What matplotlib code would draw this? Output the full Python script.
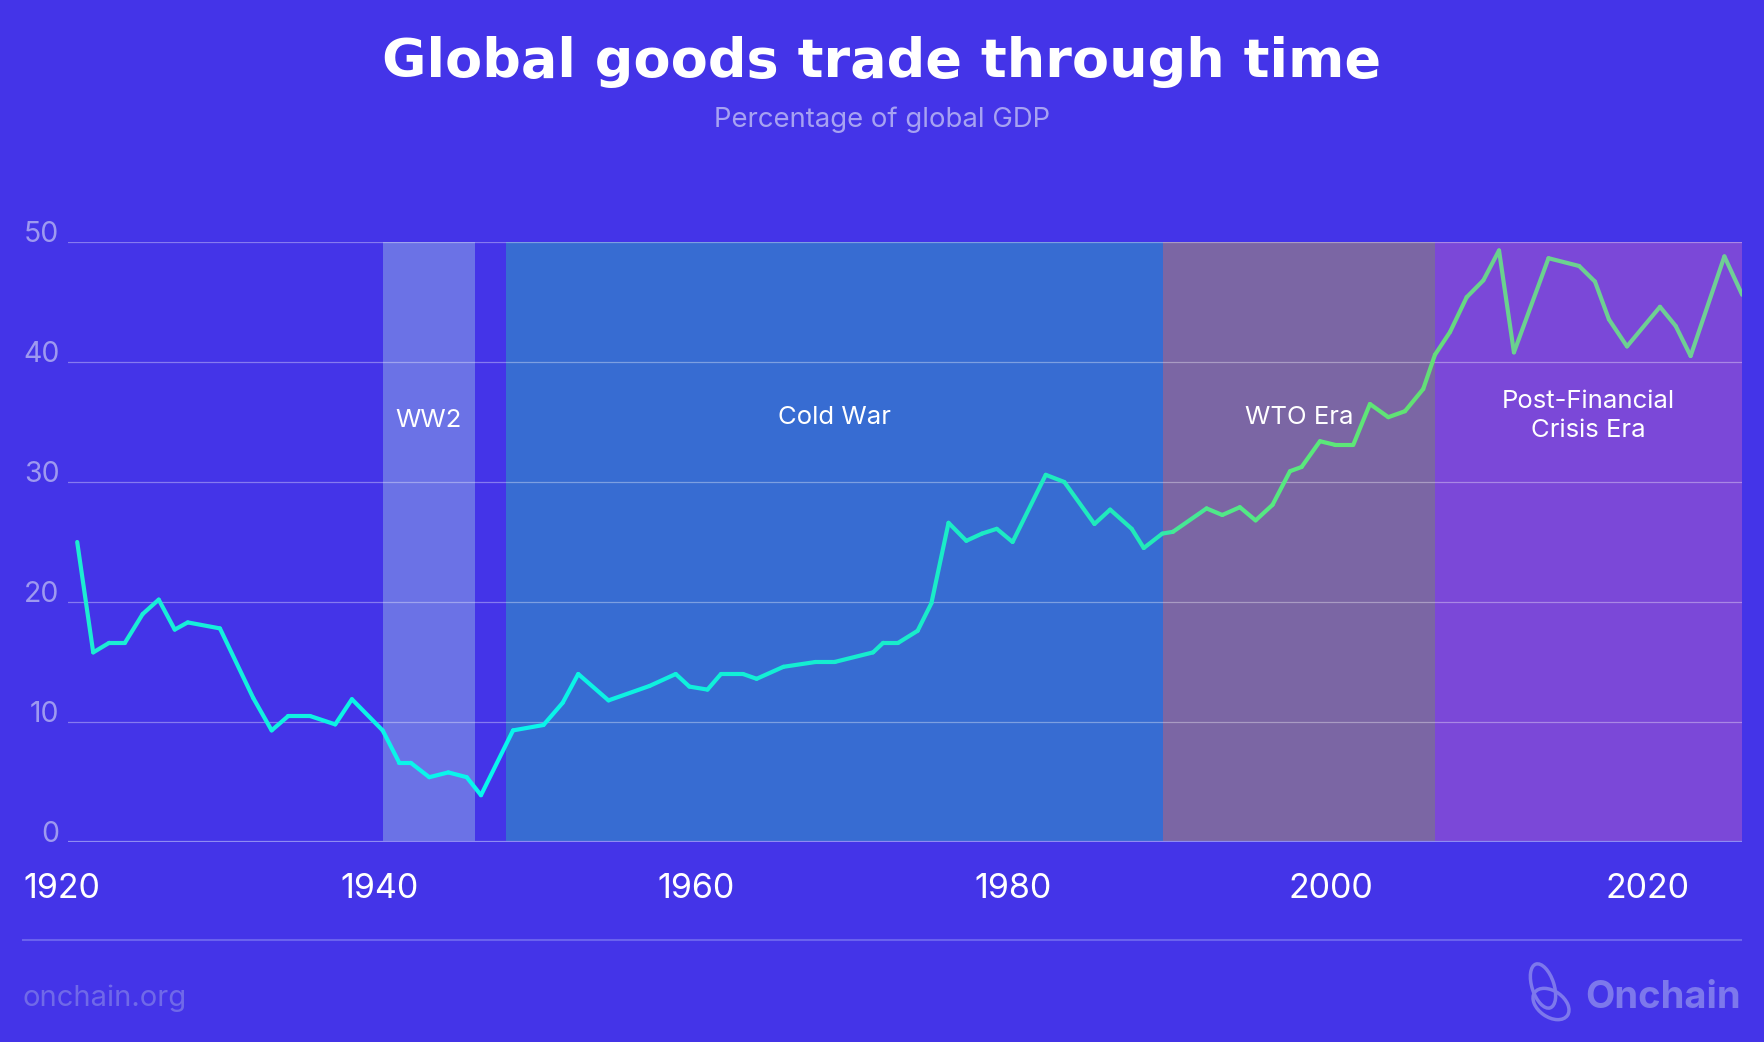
import numpy as np
import matplotlib
matplotlib.use("Agg")
import matplotlib.pyplot as plt
import matplotlib.transforms as mtransforms
from matplotlib.collections import LineCollection
from matplotlib.colors import LinearSegmentedColormap
from matplotlib.patches import Ellipse

# goods trade as % of global GDP (years read off the chart, not evenly spaced)
years = [1920.96, 1921.97, 1922.98, 1923.97, 1925.09, 1926.10, 1927.11, 1927.93,
         1929.96, 1932.06, 1933.22, 1934.27, 1935.64, 1937.23, 1938.28, 1940.22,
         1941.27, 1941.99, 1943.16, 1944.36, 1945.52, 1946.42, 1948.44, 1950.36,
         1951.57, 1952.55, 1954.46, 1957.04, 1958.70, 1959.56, 1960.70, 1961.55,
         1962.94, 1963.80, 1965.49, 1967.51, 1968.71, 1971.14, 1971.78, 1972.73,
         1973.95, 1974.82, 1975.90, 1977.02, 1978.01, 1978.94, 1979.94, 1982.03,
         1983.20, 1985.10, 1986.09, 1987.45, 1988.21, 1989.38, 1990.05, 1992.17,
         1993.16, 1994.27, 1995.26, 1996.33, 1997.43, 1998.16, 1999.32, 2000.26,
         2001.42, 2002.47, 2003.63, 2004.68, 2005.83, 2006.57, 2007.52, 2008.57,
         2009.62, 2010.61, 2011.55, 2013.73, 2015.66, 2016.66, 2017.54, 2018.68,
         2020.76, 2021.75, 2022.69, 2024.82, 2025.94]
trade_pct = [25.0, 15.8, 16.6, 16.6, 19.0, 20.2, 17.7, 18.3,
             17.8, 12.0, 9.3, 10.5, 10.5, 9.8, 11.9, 9.3,
             6.6, 6.6, 5.4, 5.8, 5.4, 3.9, 9.3, 9.75,
             11.6, 14.0, 11.8, 13.0, 14.0, 12.95, 12.7, 14.0,
             14.0, 13.6, 14.6, 15.0, 15.0, 15.8, 16.6, 16.6,
             17.6, 19.9, 26.6, 25.1, 25.7, 26.1, 25.0, 30.6,
             30.0, 26.5, 27.7, 26.1, 24.5, 25.7, 25.85, 27.8,
             27.25, 27.9, 26.8, 28.1, 30.9, 31.25, 33.4, 33.1,
             33.1, 36.5, 35.4, 35.9, 37.75, 40.6, 42.5, 45.4,
             46.8, 49.3, 40.8, 48.65, 48.0, 46.7, 43.55, 41.3,
             44.6, 43.0, 40.5, 48.8, 45.6]

eras = ["WW2", "Cold War", "WTO Era", "Post-Financial\nCrisis Era"]
era_start = [1940.22, 1947.99, 1989.42, 2006.57]
era_end = [1946.04, 1989.42, 2006.57, 2025.93]
era_colors = ["#6B72E6", "#376CD2", "#7B66A4", "#7B48D8"]
era_label_y = [35.1, 35.4, 35.4, 35.5]

x_ticks = [1920, 1940, 1960, 1980, 2000, 2020]
y_ticks = [0, 10, 20, 30, 40, 50]

BG = "#4434E8"
plt.rcParams["font.family"] = ["Inter", "DejaVu Sans"]

fig = plt.figure(figsize=(17.64, 10.42), dpi=100, facecolor=BG)
ax = fig.add_axes([68 / 1764, 1 - 842 / 1042, 1674 / 1764, 600 / 1042])
ax.set_facecolor(BG)
ax.set_xlim(1920.38, 2025.93)
ax.set_ylim(0, 50)
for s in ax.spines.values():
    s.set_visible(False)
ax.set_xticks([])
ax.set_yticks([])

# shaded eras
for name, x0, x1, c, ly in zip(eras, era_start, era_end, era_colors, era_label_y):
    ax.axvspan(x0, x1, color=c, lw=0, zorder=0)
    ax.text((x0 + x1) / 2, ly, name, ha="center", va="center", color="white",
            fontsize=18.5, linespacing=1.35, zorder=4)

# grid + y labels
ytrans = mtransforms.blended_transform_factory(ax.transAxes, ax.transData)
for v in y_ticks:
    if v == 0:
        ax.axhline(0, color="#8F8BF3", lw=1.6, zorder=1)
    else:
        ax.axhline(v, color="white", alpha=0.35, lw=0.9, zorder=1)
    ax.text(-0.0051, v, str(v), transform=ytrans, ha="right", va="baseline",
            fontsize=20.5, color="#9E99F0", clip_on=False)

# x labels
xtrans = mtransforms.blended_transform_factory(ax.transData, ax.transAxes)
for t in x_ticks:
    ax.text(t, -0.0783, str(t), transform=xtrans, ha="center", va="center",
            fontsize=24.5, color="white", clip_on=False)

# gradient line
xy = np.column_stack([years, trade_pct])
segs = np.stack([xy[:-1], xy[1:]], axis=1)
cmap = LinearSegmentedColormap.from_list("trade", [
    (0.00, "#1EEBD0"), (0.14, "#0FF2E2"), (0.25, "#08F6EE"), (0.38, "#10F0DA"),
    (0.52, "#1AECC8"), (0.65, "#22EAB8"), (0.675, "#4EE88C"), (0.76, "#5CE878"),
    (0.81, "#62E074"), (0.85, "#6AD28E"), (1.00, "#70CE96")])
lc = LineCollection(segs, cmap=cmap, norm=plt.Normalize(1920, 2026),
                    linewidth=3, capstyle="round", joinstyle="round", zorder=3)
lc.set_array((np.array(years[:-1]) + np.array(years[1:])) / 2)
ax.add_collection(lc)

# titles
fig.text(0.5, 1 - 76.7 / 1042, "Global goods trade through time", ha="center",
         va="baseline", fontsize=39, fontweight="bold", color="white",
         family="DejaVu Sans")
fig.text(0.5, 1 - 126.7 / 1042, "Percentage of global GDP", ha="center",
         va="baseline", fontsize=19.8, color="#A7A2F2")

# footer in pixel coords
deco = fig.add_axes([0, 0, 1, 1])
deco.set_xlim(0, 1764)
deco.set_ylim(1042, 0)
deco.axis("off")
deco.patch.set_alpha(0)
deco.plot([22.5, 1741], [940.3, 940.3], color="#6A62EE", lw=1.5)
deco.text(22.5, 998, "onchain.org", ha="left", va="center", fontsize=21,
          color="#7069E8")
deco.text(1741, 998, "Onchain", ha="right", va="center", fontsize=27.5,
          fontweight="bold", color="#7D78EC")
deco.add_patch(Ellipse((1543, 986), 22, 46, angle=-18, fill=False,
                       ec="#7D78EC", lw=2.5))
deco.add_patch(Ellipse((1551, 1004), 40, 26, angle=35, fill=False,
                       ec="#7D78EC", lw=2.5))

fig.savefig("out.png", dpi=100, facecolor=BG)
